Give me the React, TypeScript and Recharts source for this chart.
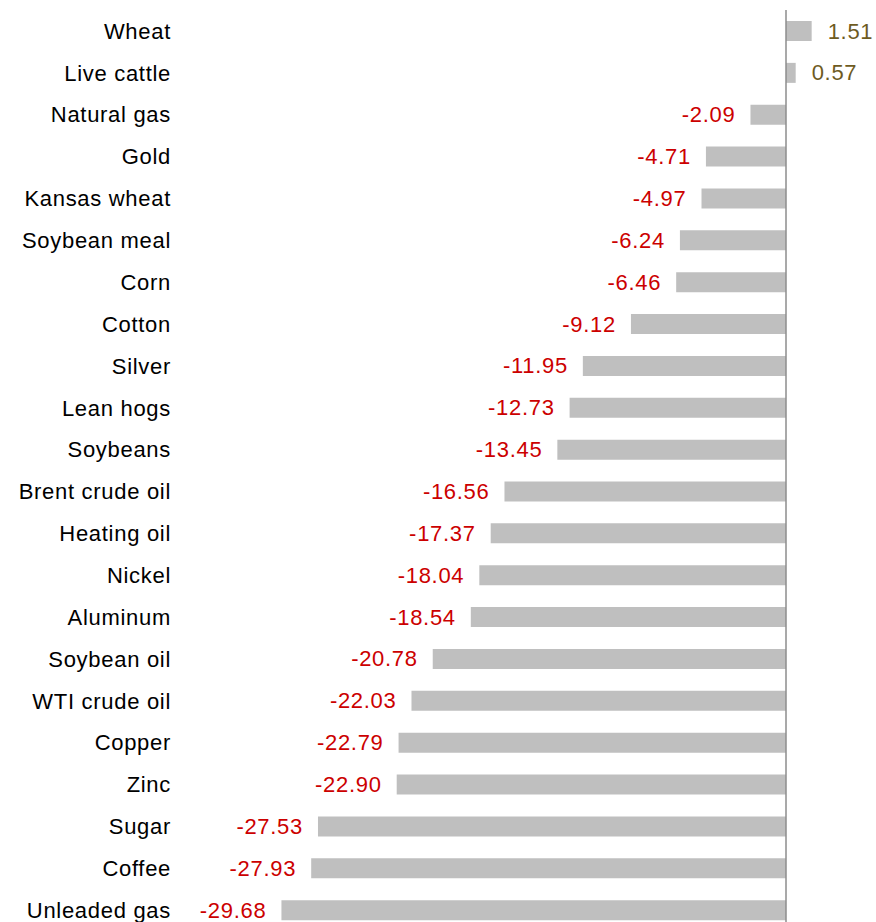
import { Bar, BarChart, LabelList, ReferenceLine, XAxis, YAxis } from 'recharts';

const commodities = [
  "Wheat", "Live cattle", "Natural gas", "Gold", "Kansas wheat", "Soybean meal",
  "Corn", "Cotton", "Silver", "Lean hogs", "Soybeans", "Brent crude oil",
  "Heating oil", "Nickel", "Aluminum", "Soybean oil", "WTI crude oil", "Copper",
  "Zinc", "Sugar", "Coffee", "Unleaded gas",
];

const changes = [
  1.51, 0.57, -2.09, -4.71, -4.97, -6.24,
  -6.46, -9.12, -11.95, -12.73, -13.45, -16.56,
  -17.37, -18.04, -18.54, -20.78, -22.03, -22.79,
  -22.90, -27.53, -27.93, -29.68,
];

const data = commodities.map((name, i) => ({ name, value: changes[i] }));

const FONT = "'Liberation Sans', Arial, sans-serif";

function ValueLabel(props: any) {
  const { x, y, width, height, value } = props;
  const left = Math.min(x, x + width);
  const right = Math.max(x, x + width);
  const cy = y + height / 2;
  const positive = value >= 0;
  return (
    <text
      x={positive ? right + 16 : left - 15}
      y={cy}
      textAnchor={positive ? "start" : "end"}
      dominantBaseline="central"
      fill={positive ? "#6e5b1f" : "#cc0000"}
      fontSize={22}
      letterSpacing={0.7}
      fontFamily={FONT}
    >
      {value.toFixed(2)}
    </text>
  );
}

export default function App() {
  return (
    <div style={{ position: "absolute", left: 0, top: 0, width: 876, height: 922, overflow: "hidden", background: "#fff" }}>
      <BarChart
        layout="vertical"
        width={876}
        height={931}
        data={data}
        margin={{ top: 10, right: 5, left: 0, bottom: 0 }}
      >
        <XAxis type="number" domain={[-36, 5]} hide />
        <YAxis
          type="category"
          dataKey="name"
          width={174}
          axisLine={false}
          tickLine={false}
          tickSize={0}
          tickMargin={3}
          tick={{ fill: "#000", fontSize: 22, fontFamily: FONT, letterSpacing: 0.7 }}
          interval={0}
        />
        <Bar dataKey="value" fill="#bfbfbf" barSize={20} isAnimationActive={false}>
          <LabelList dataKey="value" content={<ValueLabel />} />
        </Bar>
        <ReferenceLine x={0} stroke="#8c8c8c" strokeWidth={1.5} />
      </BarChart>
    </div>
  );
}
